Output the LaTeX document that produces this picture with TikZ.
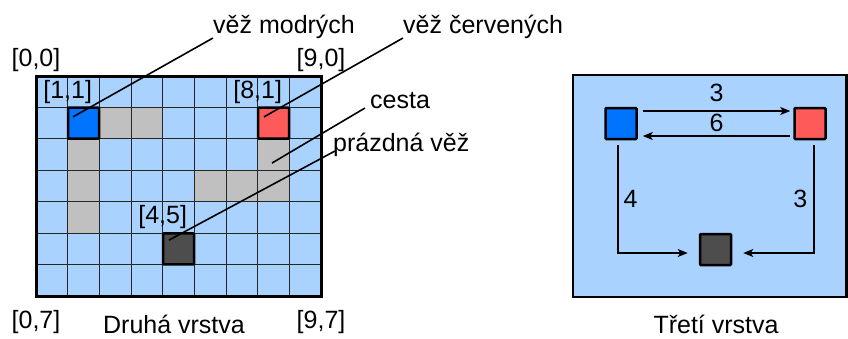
\documentclass[tikz,border=0pt]{standalone}
\usepackage{fontspec}
\setmainfont{Liberation Sans}
\usetikzlibrary{arrows.meta}
\definecolor{layerblue}{RGB}{170,210,255}
\definecolor{pathgray}{RGB}{192,192,192}
\definecolor{bluetower}{RGB}{0,115,255}
\definecolor{redtower}{RGB}{255,90,90}
\definecolor{emptytower}{RGB}{77,77,77}

\begin{document}
\begin{tikzpicture}[x=1pt,y=-1pt,>={Stealth[length=10pt,width=8pt,inset=2.5pt]},
  font=\fontsize{25}{30}\selectfont,
  tower/.style={draw=black,line width=2.5pt,minimum size=31pt,inner sep=0pt,rounded corners=1pt},
  coordlbl/.style={anchor=base,inner sep=0pt},
  calloutlbl/.style={anchor=base west,inner sep=0pt},
  leader/.style={line width=1.6pt},
  link/.style={->,line width=1.3pt}]
\useasboundingbox (0,0) rectangle (848,338);
% druha vrstva
\begin{scope}[x=31.67pt,y=-31.43pt,shift={(36pt,-76pt)}]
\fill[layerblue] (0,0) rectangle (9,7);
\foreach \c/\r in {2/1,3/1,1/2,1/3,1/4,7/2,5/3,6/3,7/3}
  \fill[pathgray] (\c,\r) rectangle +(1,1);
\foreach \c in {1,...,8} \draw[line width=1pt,black!85] (\c,0) -- (\c,7);
\foreach \r in {1,...,6} \draw[line width=1pt,black!85] (0,\r) -- (9,\r);
\draw[line width=3pt] (0,0) rectangle (9,7);
\node[tower,fill=bluetower] (bt) at (1.5,1.5) {};
\node[tower,fill=redtower] (rt) at (7.5,1.5) {};
\node[tower,fill=emptytower] (et) at (4.5,5.5) {};
\node[coordlbl,yshift=10pt] (c00) at (0,0) {[0,0]};
\node[coordlbl,yshift=10pt] (c90) at (9,0) {[9,0]};
\node[coordlbl,yshift=-32pt] (c07) at (0,7) {[0,7]};
\node[coordlbl,yshift=-32pt] (c97) at (9,7) {[9,7]};
\node[coordlbl,yshift=9pt] (c11) at (1,1) {[1,1]};
\node[coordlbl,yshift=9pt] (c81) at (7,1) {[8,1]};
\node[coordlbl,yshift=10pt] (c45) at (4,5) {[4,5]};
\coordinate (pblue) at (1.17,1.30);
\coordinate (pred) at (7.20,1.30);
\coordinate (ppath) at (7.45,2.77);
\coordinate (pempty) at (4.20,5.22);
\end{scope}
\node[calloutlbl] (lblblue) at (213,33) {věž modrých};
\node[calloutlbl] (lblred) at (403,33) {věž červených};
\node[calloutlbl] (lblpath) at (370,108) {cesta};
\node[calloutlbl] (lblempty) at (333,151) {prázdná věž};
\draw[leader] (pblue) -- ([yshift=-5pt]lblblue.base west);
\draw[leader] (pred) -- ([yshift=-5pt]lblred.base west);
\draw[leader] (ppath) -- ([xshift=-5pt]lblpath.base west);
\draw[leader] (pempty) -- ([xshift=2pt]lblempty.base west);
\node[coordlbl] (title2) at (174,333.5) {Druhá vrstva};
% treti vrstva
\draw[fill=layerblue,line width=2.5pt] (573,75) rectangle (846.5,297);
\node[tower,fill=bluetower] (b3) at (621,123.5) {};
\node[tower,fill=redtower] (r3) at (810,123.5) {};
\node[tower,fill=emptytower] (e3) at (715.5,249.5) {};
\draw[link] ([xshift=5pt,yshift=12.5pt]b3.east) -- ([xshift=-3pt,yshift=12.5pt]r3.west)
  node[midway,above=9pt,inner sep=0pt]{3};
\draw[link] ([xshift=-3pt,yshift=-12.5pt]r3.west) -- ([xshift=5pt,yshift=-12.5pt]b3.east)
  node[midway,above=4pt,inner sep=0pt]{6};
\draw[link] ([xshift=-3pt,yshift=-5pt]b3.south) |- ([xshift=-11pt,yshift=-3.5pt]e3.west)
  node[pos=0.25,right=5pt,inner sep=0pt]{4};
\draw[link] ([xshift=4pt,yshift=-5pt]r3.south) |- ([xshift=11pt,yshift=-3.5pt]e3.east)
  node[pos=0.25,left=6pt,inner sep=0pt]{3};
\node[coordlbl] (title3) at (716,333.5) {Třetí vrstva};
\end{tikzpicture}
\end{document}
